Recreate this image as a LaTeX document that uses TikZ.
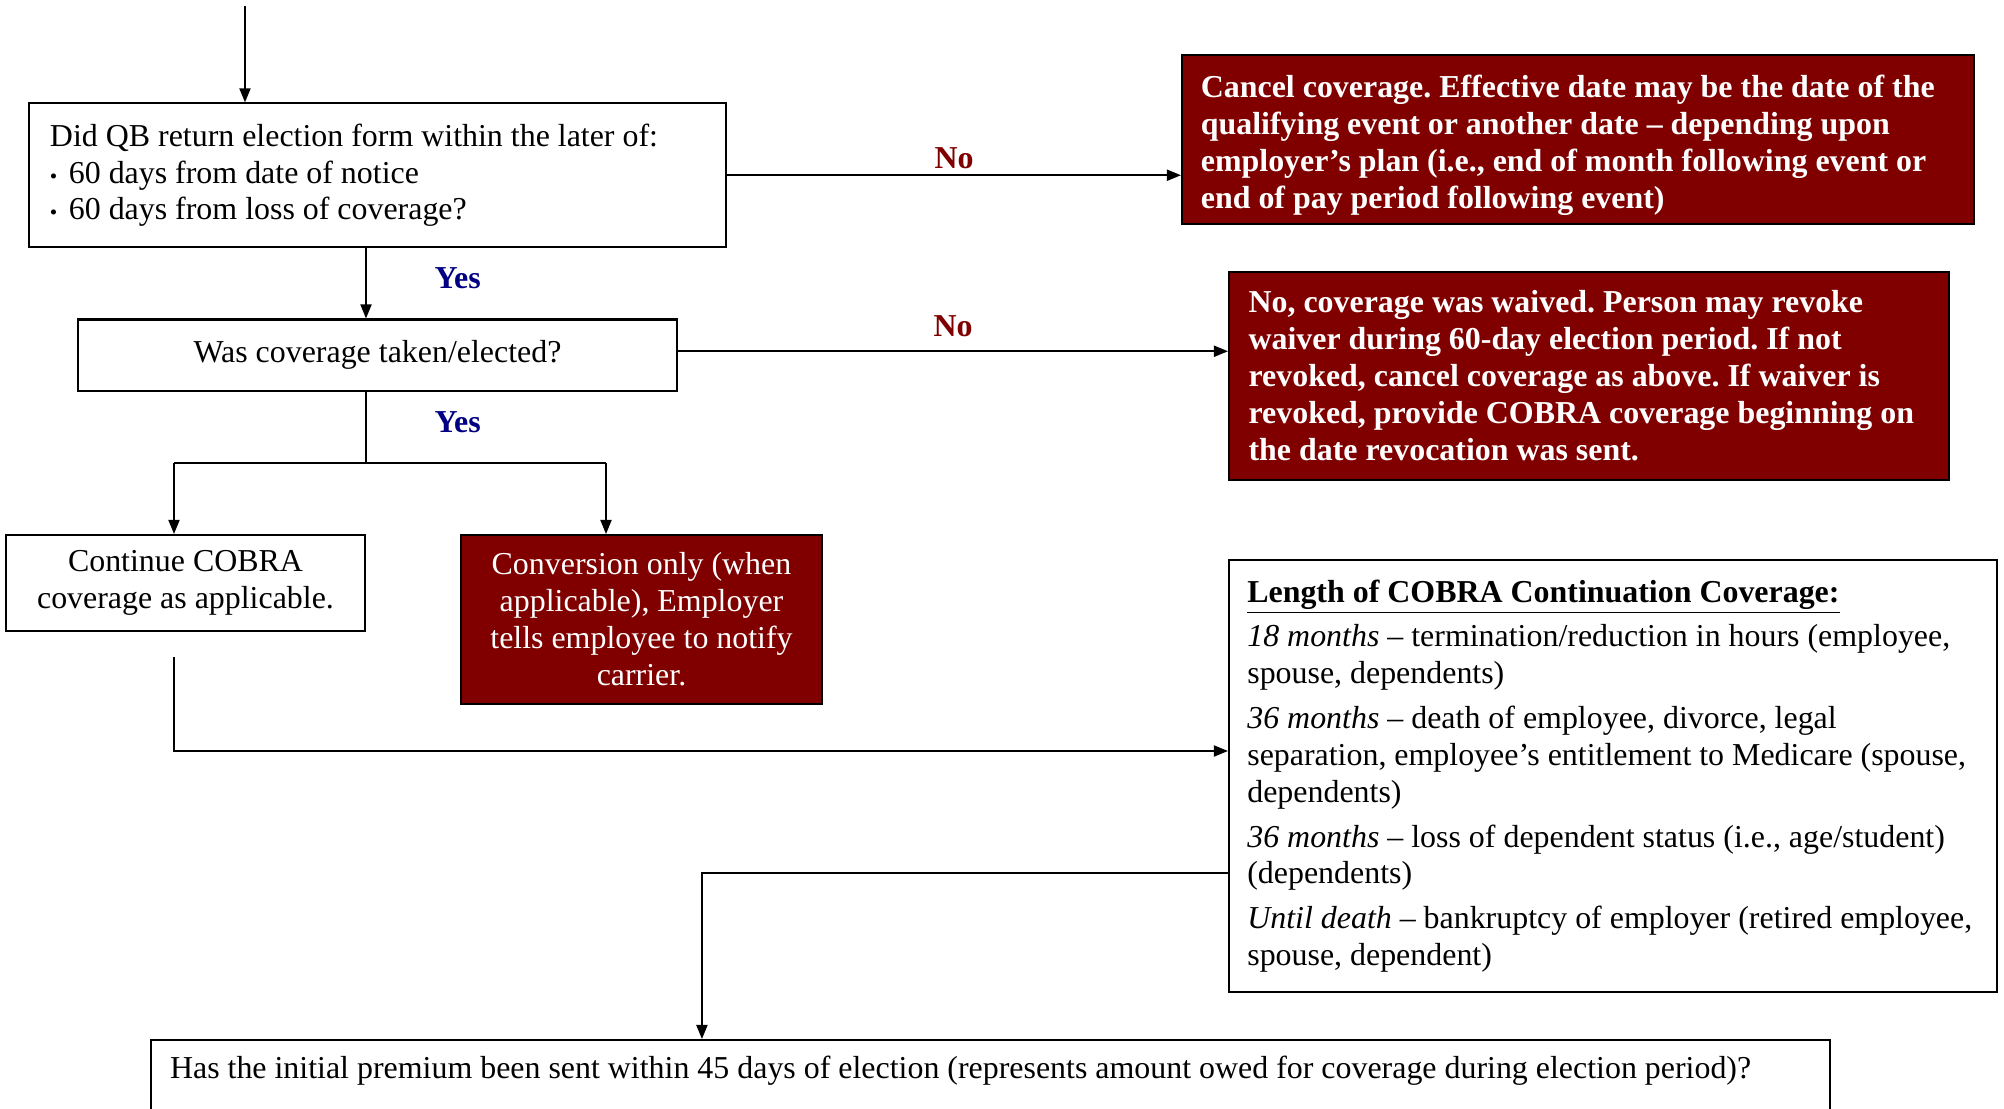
\documentclass[12pt,tikz,border=0pt]{standalone}
\usepackage{fontspec}
\setmainfont{Liberation Serif}
\usetikzlibrary{arrows.meta}
\definecolor{boxred}{RGB}{128,0,0}
\definecolor{yesblue}{RGB}{0,0,128}
\newcommand{\boxfont}{\fontsize{12pt}{13.9pt}\selectfont}
\newcommand{\bulletitem}{{\scriptsize\textbullet}\hspace{4.3pt}}
\frenchspacing
\tikzset{
  qbox/.style={draw,line width=0.8pt,font=\boxfont,inner sep=0pt},
  redbox/.style={qbox,fill=boxred,text=white},
  nolabel/.style={font=\boxfont\bfseries,text=boxred},
  yeslabel/.style={font=\boxfont\bfseries,text=yesblue},
}

\begin{document}
\begin{tikzpicture}[x=0.376pt,y=-0.376pt,line width=0.6pt,>={Triangle[length=5.3pt,width=4.2pt]}]
      \useasboundingbox (0,0) rectangle (2004,1109);
      \clip (0,0) rectangle (2004,1109);
      % questions and outcomes
      \node[qbox,minimum width=262.1pt,minimum height=54pt,text width=246.3pt,align=flush left] (q1) at (377.5,175.25)
        {Did QB return election form within the later of:\\ \bulletitem 60 days from date of notice\\ \bulletitem 60 days from loss of coverage?};
      \node[redbox,font=\boxfont\bfseries,minimum width=297.8pt,minimum height=63.5pt,text width=283.6pt,align=flush left,text height=12.5pt] (no1) at (1578,139.5)
        {Cancel coverage. Effective date may be the date of the\\ qualifying event or another date -- depending upon\\ employer's plan (i.e., end of month following event or\\ end of pay period following event)};
      \node[qbox,minimum width=225.2pt,minimum height=26.9pt] (q2) at (377.5,355.25) {Was coverage taken/elected?};
      \node[redbox,font=\boxfont\bfseries,minimum width=270.7pt,minimum height=78.2pt,text width=256pt,align=flush left] (no2) at (1589,376)
        {No, coverage was waived. Person may revoke\\ waiver during 60-day election period. If not\\ revoked, cancel coverage as above. If waiver is\\ revoked, provide COBRA coverage beginning on\\ the date revocation was sent.};
      \node[qbox,minimum width=135pt,minimum height=36.1pt,align=center] (cont) at (185.5,583) {Continue COBRA\\ coverage as applicable.};
      \node[redbox,minimum width=135.7pt,minimum height=63.5pt,align=center] (conv) at (641.5,619.5)
        {Conversion only (when\\ applicable), Employer\\ tells employee to notify\\ carrier.};
      \node[qbox,minimum width=288.8pt,minimum height=162.4pt,text width=275pt,align=flush left] (len) at (1613,776)
        {\underline{\textbf{Length of COBRA Continuation Coverage:}}\\[2.9pt]
         \textit{18 months} -- termination/reduction in hours (employee,\\ spouse, dependents)\\[2.9pt]
         \textit{36 months} -- death of employee, divorce, legal\\ separation, employee's entitlement to Medicare (spouse,\\ dependents)\\[2.9pt]
         \textit{36 months} -- loss of dependent status (i.e., age/student)\\ (dependents)\\[2.9pt]
         \textit{Until death} -- bankruptcy of employer (retired employee,\\ spouse, dependent)};
      \node[qbox,anchor=north,minimum width=631.3pt,text width=617pt,align=flush left,text height=11pt,text depth=40pt,inner ysep=3.3pt] (prem) at (990.5,1039)
        {Has the initial premium been sent within 45 days of election (represents amount owed for coverage during election period)?};
      % connectors
      \coordinate (start) at (245,6);
      \coordinate (split) at (366,463);
      \coordinate (splitL) at (174,463);
      \coordinate (splitR) at (606,463);
      \coordinate (contout) at (174,657);
      \draw[->] (start) -- (start |- q1.north);
      \draw[->] (q1.east) -- (q1.east -| no1.west) node[nolabel,midway,above=-1.9pt] {No};
      \draw[->] (split |- q1.south) -- (split |- q2.north) node[yeslabel,midway,right=21.5pt,yshift=2pt] {Yes};
      \draw[->] ([yshift=1.5pt]q2.east) -- ([yshift=1.5pt]q2.east -| no2.west) node[nolabel,midway,above=1.2pt] {No};
      \draw (split |- q2.south) -- (split) node[yeslabel,midway,right=21.5pt,yshift=2pt] {Yes};
      \draw (splitL) -- (splitR);
      \draw[->] (splitL) -- (splitL |- cont.north);
      \draw[->] (splitR) -- (splitR |- conv.north);
      \draw[->] (contout) |- ([yshift=9.4pt]len.west);
      \draw[->] ([yshift=-36.5pt]len.west) -| ([xshift=-108.5pt]prem.north);
\end{tikzpicture}
\end{document}
